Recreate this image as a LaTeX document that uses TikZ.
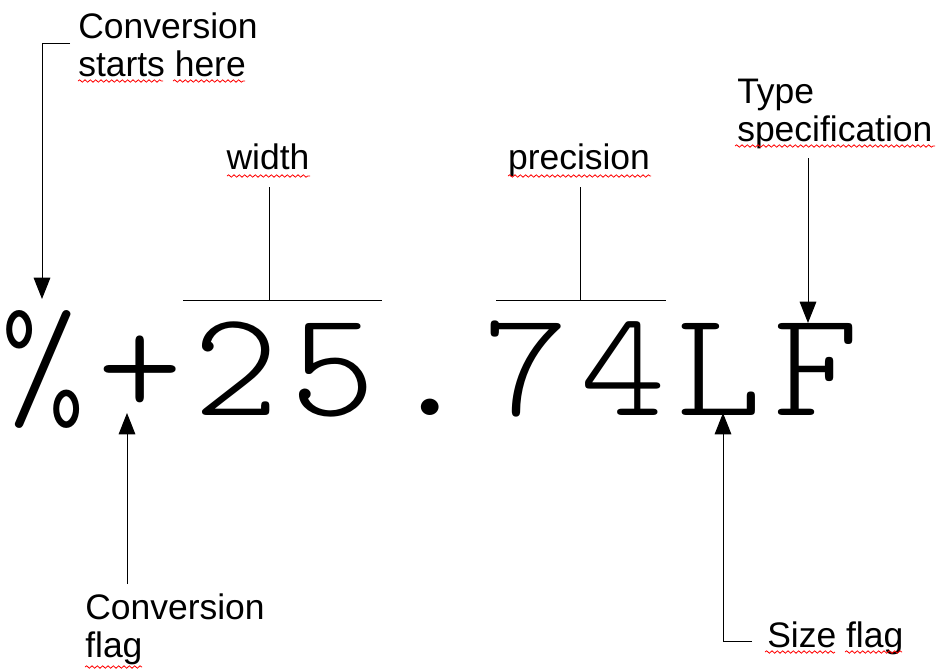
\documentclass[tikz,border=0pt]{standalone}
\usepackage{fontspec}
\setmainfont{Liberation Sans}
\newfontfamily\codefont{Latin Modern Mono Light}
\usetikzlibrary{arrows.meta,decorations.pathmorphing}

\tikzset{
  lbl/.style={anchor=base west,inner sep=0pt,align=left,font=\fontsize{26.6}{28.3}\selectfont},
  chr/.style={anchor=base,inner sep=0pt,font=\codefont\fontsize{113}{113}\selectfont},
  ptr/.style={line width=0.75pt,-{Triangle[width=12.5pt,length=16pt]}},
  bar/.style={line width=0.75pt},
  spell/.style={red,line width=0.6pt,decorate,decoration={snake,amplitude=0.9pt,segment length=4pt}}
}

\begin{document}
\begin{tikzpicture}[x=0.75pt,y=0.75pt,yscale=-1,xscale=1]
\useasboundingbox (0,0) rectangle (936,669);

% Format string, one node per character
\foreach \c/\n [count=\i from 0] in {\%/pct,+/plus,2/two,5/five,./dot,7/seven,4/four,L/ell,F/eff}
  \node[chr] (\n) at ({43.5+96.6*\i},415) {\scalebox{1.08}[1]{\c}};

% Text Node (base = last line)
\node[lbl] (start) at (78,76) {Conversion\\starts here};
% Text Node
\node[lbl,anchor=base] (width) at (268,169) {width};
% Text Node
\node[lbl,anchor=base] (prec) at (579,169) {precision};
% Text Node
\node[lbl] (type) at (737,141) {Type\\specification};
% Text Node
\node[lbl] (flag) at (85,657) {Conversion\\flag};
% Text Node
\node[lbl] (size) at (767,647) {Size flag};

% connector ends
\coordinate (startA) at (70,43);
\coordinate (startB) at (42,299);
\coordinate (widthA) at (269,187);
\coordinate (widthB) at (269,300);
\coordinate (widthL) at (183,300);
\coordinate (widthR) at (382,300);
\coordinate (precA) at (580,187);
\coordinate (precB) at (580,300);
\coordinate (precL) at (496,300);
\coordinate (precR) at (666,300);
\coordinate (typeA) at (808,158);
\coordinate (typeB) at (808,323);
\coordinate (flagA) at (127,584);
\coordinate (flagB) at (127,413);
\coordinate (sizeA) at (752,641);
\coordinate (sizeB) at (723,413);

%Straight Lines
\draw[ptr] (startA) -| (startB);
\draw[bar] (widthA) -- (widthB);
\draw[bar] (widthL) -- (widthR);
\draw[bar] (precA) -- (precB);
\draw[bar] (precL) -- (precR);
\draw[ptr] (typeA) -- (typeB);
\draw[ptr] (flagA) -- (flagB);
\draw[ptr] (sizeA) -| (sizeB);

% spell-check marks
\draw[spell] (78,81) -- (163,81);
\draw[spell] (173,81) -- (245,81);
\draw[spell] (227,176) -- (310,176);
\draw[spell] (508,176) -- (651,176);
\draw[spell] (735,146) -- (935,146);
\draw[spell] (85,667) -- (142,667);
\draw[spell] (765,652) -- (835,652);
\draw[spell] (845,652) -- (902,652);

\end{tikzpicture}
\end{document}
